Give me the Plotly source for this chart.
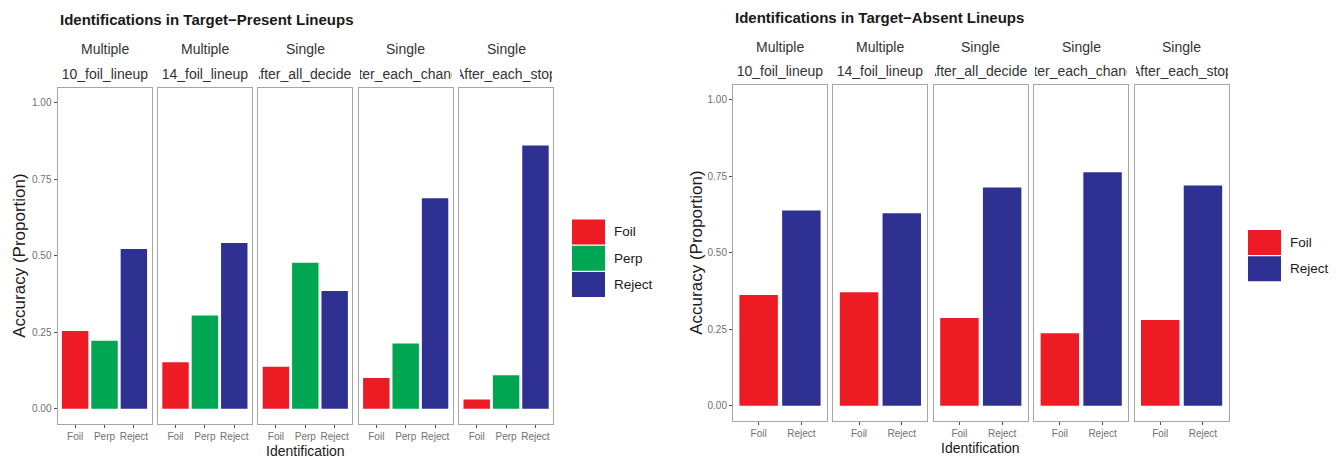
import plotly.graph_objects as go

# ---------------- data ----------------
present_conditions = ["10_foil_lineup", "14_foil_lineup", "After_all_decided", "After_each_change", "After_each_stop"]
present_groups = ["Multiple", "Multiple", "Single", "Single", "Single"]
present_categories = ["Foil", "Perp", "Reject"]
present_foil = [0.254, 0.152, 0.137, 0.100, 0.030]
present_perp = [0.222, 0.305, 0.477, 0.213, 0.109]
present_reject = [0.522, 0.542, 0.385, 0.688, 0.860]

absent_conditions = ["10_foil_lineup", "14_foil_lineup", "After_all_decided", "After_each_change", "After_each_stop"]
absent_groups = ["Multiple", "Multiple", "Single", "Single", "Single"]
absent_categories = ["Foil", "Reject"]
absent_foil = [0.362, 0.371, 0.287, 0.237, 0.280]
absent_reject = [0.638, 0.629, 0.713, 0.763, 0.720]

y_ticks = [0.0, 0.25, 0.5, 0.75, 1.0]
y_ticklabels = ["0.00", "0.25", "0.50", "0.75", "1.00"]

colors = {"Foil": "#ED1C24", "Perp": "#00A651", "Reject": "#2E3192"}

# ---------------- layout helpers ----------------
W, H = 1343, 458
FONT = "Liberation Sans, Arial, sans-serif"
def px(x):
    return x / W
def py(y):
    return 1 - y / H

PANEL_W = 94
STEP = 100.4
charts = [
    dict(x0=57.5, top=87.5, bottom=424, title="Identifications in Target\u2212Present Lineups",
         title_y=19, strip1_y=49.5, strip2_y=73.5, ytitle_x=20, xtitle_y=451,
         conds=present_conditions, groups=present_groups, cats=present_categories,
         vals=[present_foil, present_perp, present_reject],
         leg_x=572, leg_y=219),
    dict(x0=733, top=84.5, bottom=421, title="Identifications in Target\u2212Absent Lineups",
         title_y=17, strip1_y=47, strip2_y=71.5, ytitle_x=697, xtitle_y=448,
         conds=absent_conditions, groups=absent_groups, cats=absent_categories,
         vals=[absent_foil, absent_reject],
         leg_x=1248, leg_y=229.5),
]

fig = go.Figure()
layout = dict(width=W, height=H, margin=dict(l=0, r=0, t=0, b=0),
              paper_bgcolor="white", plot_bgcolor="white", showlegend=False,
              bargap=0.1, font=dict(family=FONT))
annotations = []
shapes = []

ax = 0
for c in charts:
    ncat = len(c["cats"])
    for i in range(5):
        ax += 1
        xa = "x" if ax == 1 else f"x{ax}"
        ya = "y" if ax == 1 else f"y{ax}"
        xkey = "xaxis" if ax == 1 else f"xaxis{ax}"
        ykey = "yaxis" if ax == 1 else f"yaxis{ax}"
        left = c["x0"] + i * STEP
        right = left + PANEL_W
        yvals = [series[i] for series in c["vals"]]
        fig.add_trace(go.Bar(
            x=c["cats"], y=yvals, xaxis=xa, yaxis=ya, width=0.9,
            marker=dict(color=[colors[k] for k in c["cats"]], line=dict(width=0)),
            hoverinfo="x+y"))
        layout[xkey] = dict(domain=[px(left), px(right)], anchor=ya, type="category",
                            range=[-0.6, ncat - 0.4], showgrid=False, zeroline=False,
                            showline=True, mirror=True, linecolor="#a6a6a6", linewidth=1,
                            ticks="outside", ticklen=3, tickcolor="#4d4d4d", tickwidth=1,
                            tickfont=dict(size=10, color="#707070", family=FONT),
                            fixedrange=True)
        layout[ykey] = dict(domain=[py(c["bottom"]), py(c["top"])], anchor=xa,
                            range=[-0.05, 1.05], showgrid=False, zeroline=False,
                            showline=True, mirror=True, linecolor="#a6a6a6", linewidth=1,
                            tickvals=y_ticks, ticktext=y_ticklabels,
                            ticks="outside" if i == 0 else "", ticklen=3,
                            tickcolor="#4d4d4d", tickwidth=1,
                            showticklabels=(i == 0),
                            tickfont=dict(size=10, color="#707070", family=FONT),
                            fixedrange=True)
        cx = (left + right) / 2
        annotations.append(dict(xref="paper", yref="paper", x=px(cx), y=py(c["strip1_y"]),
                                text=c["groups"][i], showarrow=False, xanchor="center",
                                yanchor="middle", font=dict(size=14, color="#333333", family=FONT)))
        annotations.append(dict(xref="paper", yref="paper", x=px(cx), y=py(c["strip2_y"]),
                                text=c["conds"][i], showarrow=False, xanchor="center",
                                yanchor="middle", width=PANEL_W - 2, align="center",
                                font=dict(size=14, color="#333333", family=FONT)))
    # chart title
    annotations.append(dict(xref="paper", yref="paper", x=px(c["x0"]), y=py(c["title_y"]),
                            text="<b>" + c["title"] + "</b>", showarrow=False, xanchor="left",
                            yanchor="middle", font=dict(size=15, color="#1a1a1a", family=FONT)))
    # axis titles
    mid_x = (c["x0"] + c["x0"] + 4 * STEP + PANEL_W) / 2
    annotations.append(dict(xref="paper", yref="paper", x=px(mid_x), y=py(c["xtitle_y"]),
                            text="Identification", showarrow=False, xanchor="center",
                            yanchor="middle", font=dict(size=14, color="#1a1a1a", family=FONT)))
    annotations.append(dict(xref="paper", yref="paper", x=px(c["ytitle_x"]),
                            y=py((c["top"] + c["bottom"]) / 2),
                            text="Accuracy (Proportion)", showarrow=False, textangle=-90,
                            xanchor="center", yanchor="middle",
                            font=dict(size=17, color="#1a1a1a", family=FONT)))
    # legend keys
    for j, cat in enumerate(c["cats"]):
        y0 = c["leg_y"] + j * 26.3
        shapes.append(dict(type="rect", xref="paper", yref="paper",
                           x0=px(c["leg_x"]), x1=px(c["leg_x"] + 33),
                           y0=py(y0 + 25.5), y1=py(y0 + 0.5),
                           fillcolor=colors[cat], line=dict(width=0)))
        annotations.append(dict(xref="paper", yref="paper", x=px(c["leg_x"] + 40),
                                y=py(y0 + 13), text=cat, showarrow=False,
                                xanchor="left", yanchor="middle",
                                font=dict(size=13.5, color="#1a1a1a", family=FONT)))

layout["annotations"] = annotations
layout["shapes"] = shapes
fig.update_layout(**layout)
fig.write_html("out.html", config={"displayModeBar": False},
               post_script="document.body.style.margin='0';document.body.style.overflow='hidden';")
